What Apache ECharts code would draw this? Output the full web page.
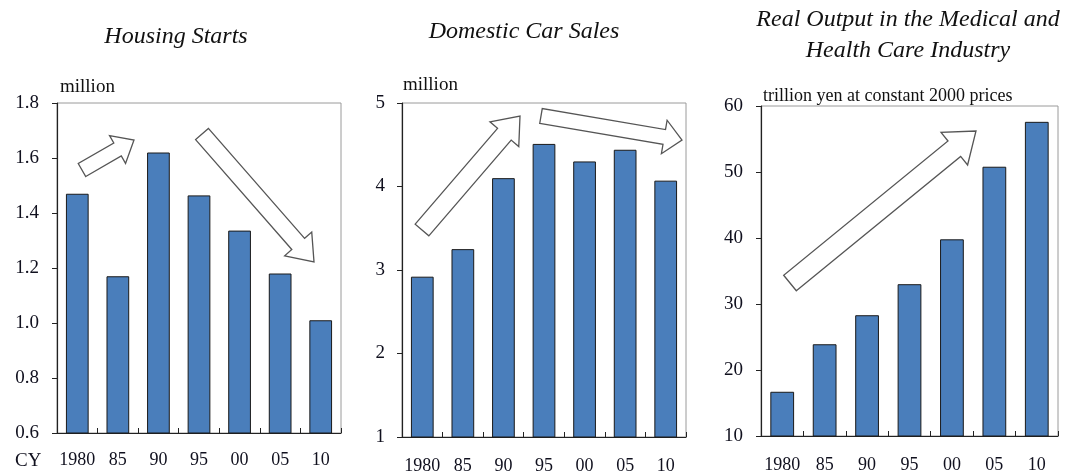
<!DOCTYPE html>
<html><head><meta charset="utf-8">
<script src="https://cdn.jsdelivr.net/npm/echarts@6/dist/echarts.min.js"></script>
<style>html,body{margin:0;padding:0;background:#fff}#c{width:1077px;height:475px}</style>
</head><body><div id="c"></div>
<script>
const categories = ['1980','85','90','95','00','05','10'];
const housingStarts = [1.47, 1.17, 1.62, 1.464, 1.336, 1.18, 1.01];
const carSales = [2.92, 3.25, 4.10, 4.51, 4.30, 4.44, 4.07];
const medicalOutput = [16.7, 23.9, 28.3, 33.0, 39.8, 50.8, 57.6];
const titles = ['Housing Starts', 'Domestic Car Sales', 'Real Output in the Medical and\nHealth Care Industry'];
const units = ['million', 'million', 'trillion yen at constant 2000 prices'];

const FONT = '"Liberation Serif", "DejaVu Serif", serif';
const TXT = '#10101e';
const grids = [
  {left: 57, top: 103, width: 284, height: 330},
  {left: 402, top: 103, width: 284, height: 335},
  {left: 761, top: 106, width: 297, height: 330}
];
const yCfg = [
  {min: 0.6, max: 1.8, interval: 0.2, fmt: v => v.toFixed(1), margin: 18},
  {min: 1, max: 5, interval: 1, fmt: v => String(v), margin: 17},
  {min: 10, max: 60, interval: 10, fmt: v => String(v), margin: 18}
];
const xMargins = [18, 20, 20];
const seriesData = [housingStarts, carSales, medicalOutput];

const option = {
  animation: false,
  grid: grids.map(g => Object.assign({show: true, borderColor: '#9a9a9a', borderWidth: 1, backgroundColor: 'transparent'}, g)),
  xAxis: grids.map((g, i) => ({
    type: 'category', gridIndex: i, data: categories,
    axisLine: {lineStyle: {color: '#222', width: 1.2}},
    axisTick: {show: true, inside: true, length: 5, lineStyle: {color: '#222'}},
    axisLabel: {color: TXT, fontFamily: FONT, fontSize: 18, margin: xMargins[i], interval: 0}
  })),
  yAxis: yCfg.map((c, i) => ({
    type: 'value', gridIndex: i, min: c.min, max: c.max, interval: c.interval,
    splitLine: {show: false},
    axisLine: {show: true, lineStyle: {color: '#222', width: 1.2}},
    axisTick: {show: true, length: 5, lineStyle: {color: '#222'}},
    axisLabel: {color: TXT, fontFamily: FONT, fontSize: 19, margin: c.margin, formatter: c.fmt}
  })),
  series: seriesData.map((d, i) => ({
    type: 'bar', xAxisIndex: i, yAxisIndex: i, data: d, barWidth: '56%',
    itemStyle: {color: '#4a7ebb', borderColor: '#1a1a1a', borderWidth: 1}
  })),
  graphic: []
};

// Titles
const titlePos = [[176, 37], [524, 32], [908, 35]];
titles.forEach((t, i) => {
  option.graphic.push({type: 'text', x: titlePos[i][0], y: titlePos[i][1], style: {
    text: t, fontFamily: FONT, fontStyle: 'italic', fontSize: 24, fill: '#111',
    align: 'center', verticalAlign: 'middle', lineHeight: 31
  }});
});
// Unit labels
const unitPos = [[60, 87], [403, 85], [763, 96]];
const unitSizes = [19, 19, 18];
units.forEach((u, i) => {
  option.graphic.push({type: 'text', x: unitPos[i][0], y: unitPos[i][1], style: {
    text: u, fontFamily: FONT, fontSize: unitSizes[i], fill: '#111', align: 'left', verticalAlign: 'middle'
  }});
});
option.graphic.push({type: 'text', x: 15, y: 461, style: {
  text: 'CY', fontFamily: FONT, fontSize: 19, fill: TXT, align: 'left', verticalAlign: 'middle'
}});

// Hollow block arrows (annotations)
function arrow(x0, y0, x1, y1, sw, hw, hl) {
  const dx = x1 - x0, dy = y1 - y0, L = Math.hypot(dx, dy);
  const ux = dx / L, uy = dy / L, nx = -uy, ny = ux;
  const bx = x1 - ux * hl, by = y1 - uy * hl;
  const pts = [
    [x0 + nx * sw / 2, y0 + ny * sw / 2],
    [bx + nx * sw / 2, by + ny * sw / 2],
    [bx + nx * hw / 2, by + ny * hw / 2],
    [x1, y1],
    [bx - nx * hw / 2, by - ny * hw / 2],
    [bx - nx * sw / 2, by - ny * sw / 2],
    [x0 - nx * sw / 2, y0 - ny * sw / 2]
  ];
  return {type: 'polygon', z: 100, shape: {points: pts},
    style: {fill: '#fff', stroke: '#555', lineWidth: 1.3}};
}
option.graphic.push(arrow(82, 170, 134, 140, 15, 32, 19));
option.graphic.push(arrow(202, 134, 314, 262, 17, 36, 24));
option.graphic.push(arrow(422, 230, 520, 116, 18, 38, 24));
option.graphic.push(arrow(541, 116, 682, 140, 15, 34, 18));
option.graphic.push(arrow(790, 283, 976, 131, 20, 42, 28));

const chart = echarts.init(document.getElementById('c'));
chart.setOption(option);
</script></body></html>
